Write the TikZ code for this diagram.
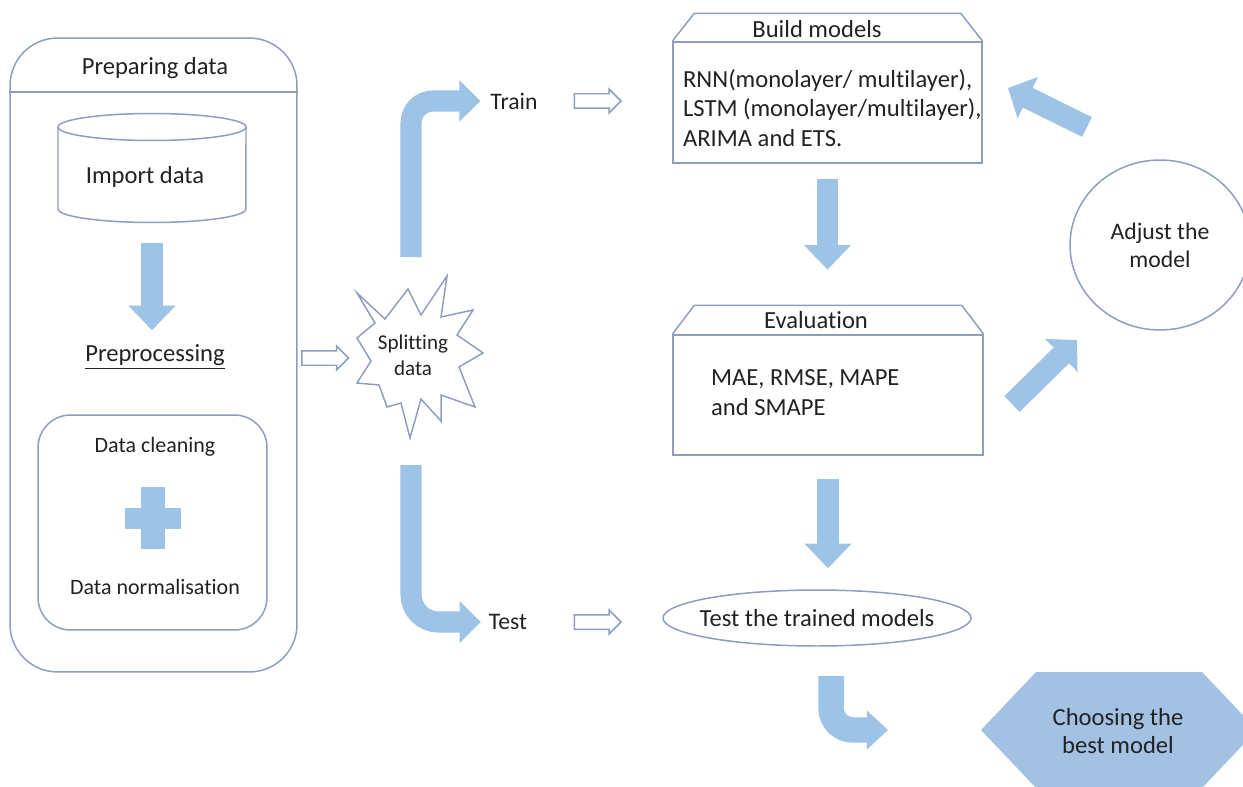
\documentclass[tikz,border=0pt]{standalone}
\usepackage{fontspec}
\setmainfont{Carlito}[Ligatures=NoCommon]
\usetikzlibrary{arrows.meta,shapes.arrows,shapes.geometric,positioning,calc}

\definecolor{edgeblue}{HTML}{8E9EBE}
\definecolor{arrowblue}{HTML}{9DC3E6}
\definecolor{hexblue}{HTML}{A3C1E3}
\definecolor{inkgray}{HTML}{222222}

\begin{document}
\begin{tikzpicture}[
    x=0.02cm, y=-0.02cm,
    lbl/.style={font=\fontsize{14}{17}\selectfont, text=inkgray,
                inner sep=1pt, align=center},
    smalllbl/.style={lbl, font=\fontsize{12.5}{15}\selectfont},
    box/.style={draw=edgeblue, line width=0.85pt},
    blockarr/.style={arrowblue, line width=12.5pt,
                     -{Triangle[length=14pt, width=26pt]}},
    diagarr/.style={arrowblue, line width=12.5pt,
                    -{Triangle[length=12.5pt, width=25.5pt]}},
    bentarr/.style={arrowblue, line width=12pt,
                    -{Triangle[length=12pt, width=23pt]}},
    turnarr/.style={arrowblue, line width=14.5pt,
                    -{Triangle[length=12pt, width=21.5pt]}},
    hollowarr/.style={single arrow, draw=edgeblue, line width=0.85pt,
                      minimum height=26.6pt, inner xsep=0pt, inner ysep=3.7pt,
                      text height=0pt, text depth=0pt,
                      single arrow head extend=2.6pt},
]
\useasboundingbox (0,0) rectangle (1243,787);

% Preparing data
\node[box, rounded corners=0.95cm, minimum width=5.74cm,
      minimum height=12.68cm] (prep) at (153.5,355) {};
\node[lbl] (preptitle) at (155,68) {Preparing data};
\draw[box] (prep.west |- 0,92) -- (prep.east |- 0,92);

% Import data (cylinder)
\node[minimum width=3.76cm, minimum height=2.2cm] (importcyl) at (152,168) {};
\draw[box] (152,127) ellipse [x radius=1.88cm, y radius=0.27cm];
\draw[box] (58,127) -- (58,209)
    arc[start angle=180, end angle=360, x radius=1.88cm, y radius=0.27cm]
    -- (246,127);
\node[lbl] (import) at (145,177) {Import data};

% Preprocessing
\node[lbl] (preproc) at (155,357) {\underline{Preprocessing}};
\draw[blockarr, shorten <=11pt, shorten >=7pt]
    (importcyl.south) -- (importcyl.south |- preproc.north);

\node[box, rounded corners=0.65cm, minimum width=4.58cm,
      minimum height=4.3cm] (prepin) at (152.5,522.5) {};
\node[smalllbl] (clean) at (155,447) {Data cleaning};
\fill[arrowblue] (125,508) rectangle (181,529);
\fill[arrowblue] (141,487) rectangle (165,549);
\node[smalllbl] (normal) at (155,587) {Data normalisation};

% Splitting data
\node[hollowarr] (harr1) at (321.5,358) {};
\node[lbl, font=\fontsize{12}{15}\selectfont] (split) at (413,355) {Splitting\\data};
\draw[box, line join=miter, shift={(split.center)}]
    (-56,-62) -- (-28,-36) -- (-5,-66) -- (8,-40) -- (34,-79) -- (28,-38)
    -- (60,-45) -- (44,-20) -- (70,-2) -- (46,12) -- (62,52) -- (28,40)
    -- (28,66) -- (8,44) -- (-3,83) -- (-12,48) -- (-26,52) -- (-34,30)
    -- (-56,28) -- (-42,6) -- (-56,-17) -- (-38,-32) -- cycle;

% Train / Test branches
\node[lbl, font=\fontsize{13.5}{16}\selectfont] (train) at (514,101) {Train};
\node[lbl, font=\fontsize{13.5}{16}\selectfont] (test) at (508,622) {Test};
\coordinate (trainfoot) at (411,257);
\coordinate (testtop) at (411,465);
\draw[bentarr, rounded corners=0.44cm, shorten >=4.5pt]
    (trainfoot) |- (train.west);
\draw[bentarr, rounded corners=0.55cm, shorten >=3.4pt]
    (testtop) |- (test.west);
\node[hollowarr] (harr2) at (594,101) {};
\node[hollowarr] (harr3) at (594,622) {};

% Build models
\node[box, minimum width=6.18cm, minimum height=2.42cm] (build) at (827.5,102.5) {};
\draw[box] (build.north west) -- ++(22,-28)
    -- ($(build.north east)+(-22,-28)$) -- (build.north east);
\node[lbl] (buildtitle) at (817,29) {Build models};
\node[lbl, align=left, anchor=west] (buildtext) at (681,108)
    {RNN(monolayer/ multilayer),\\LSTM (monolayer/multilayer),\\ARIMA and ETS.};

% Evaluation
\node[box, minimum width=6.2cm, minimum height=2.4cm] (evalbox) at (828,395) {};
\draw[box] (evalbox.north west) -- ++(22,-29)
    -- ($(evalbox.north east)+(-22,-29)$) -- (evalbox.north east);
\node[lbl] (evaltitle) at (816,320) {Evaluation};
\node[lbl, align=left, anchor=west] (evaltext) at (709,393)
    {MAE, RMSE, MAPE\\and SMAPE};
\draw[blockarr, shorten <=8.5pt, shorten >=36.8pt]
    (build.south) -- (build.south |- evalbox.north);

% Test the trained models
\node[lbl] (testmod) at (817,618) {Test the trained models};
\draw[box] (testmod) ellipse [x radius=3.08cm, y radius=0.56cm];
\draw[blockarr, shorten <=13pt, shorten >=28.3pt]
    (evalbox.south) -- (evalbox.south |- testmod.center);

% Adjust the model
\node[box, lbl, ellipse, minimum width=3.6cm, minimum height=3.4cm,
      font=\fontsize{13.5}{16}\selectfont] (adjust) at (1160,245) {Adjust the\\model};
\coordinate (evalout) at (1012,404);
\coordinate (adjustin) at (1077,340);
\coordinate (adjustout) at (1087,127);
\coordinate (buildin) at (1008,88);
\draw[diagarr] (evalout) -- (adjustin);
\draw[diagarr] (adjustout) -- (buildin);

% Choosing the best model
\fill[hexblue] (981,730) -- (1036,672) -- (1202,672) -- (1257,730)
    -- (1202,788) -- (1036,788) -- cycle;
\node[lbl, font=\fontsize{14}{16}\selectfont] (best) at (1118,731)
    {Choosing the\\best model};
\coordinate (bendtop) at (831,676);
\coordinate (bestin) at (888,730);
\draw[turnarr, rounded corners=0.44cm] (bendtop) |- (bestin);

\end{tikzpicture}
\end{document}
